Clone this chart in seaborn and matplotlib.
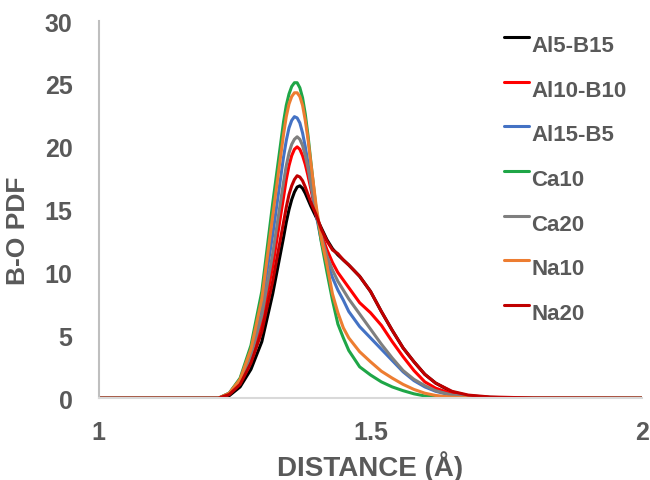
import pandas as pd
import matplotlib
matplotlib.use("Agg")
import matplotlib.pyplot as plt
from matplotlib.legend_handler import HandlerLine2D
import seaborn as sns

# B-O distance grid (Å)
distance = [1.00, 1.20, 1.22, 1.24, 1.26, 1.28, 1.30, 1.32, 1.34, 1.345, 1.35, 1.355,
            1.36, 1.365, 1.37, 1.375, 1.38, 1.385, 1.39, 1.40, 1.41, 1.42, 1.43, 1.44,
            1.45, 1.46, 1.48, 1.50, 1.52, 1.54, 1.56, 1.58, 1.60, 1.62, 1.65, 1.68,
            1.72, 1.80, 2.00]

# PDF values
al5_b15 = [0, 0, 0, 0.2, 0.9, 2.3, 4.5, 8.3, 12.8, 14.0, 15.0, 15.8,
           16.4, 16.8, 16.9, 16.7, 16.3, 15.8, 15.3, 14.4, 13.5, 12.6, 11.9, 11.4,
           11.0, 10.6, 9.7, 8.5, 6.9, 5.4, 4.0, 2.9, 1.9, 1.2, 0.5, 0.2,
           0.07, 0, 0]
al10_b10 = [0, 0, 0, 0.3, 1.2, 3.1, 6.0, 10.5, 16.0, 17.4, 18.5, 19.3,
            19.8, 20.0, 19.8, 19.3, 18.6, 17.7, 16.7, 14.6, 13.0, 11.8, 10.8, 10.0,
            9.4, 8.8, 7.6, 6.8, 5.8, 4.5, 3.3, 2.2, 1.3, 0.8, 0.35, 0.15,
            0.05, 0, 0]
al15_b5 = [0, 0, 0, 0.4, 1.5, 3.8, 7.5, 13.0, 19.2, 20.5, 21.5, 22.1,
           22.4, 22.3, 21.9, 21.1, 20.0, 18.7, 17.2, 14.6, 12.4, 10.8, 9.6, 8.6,
           7.8, 6.9, 5.7, 4.8, 3.9, 3.0, 2.1, 1.4, 0.9, 0.55, 0.22, 0.08,
           0.02, 0, 0]
ca10 = [0, 0, 0, 0.4, 1.6, 4.2, 8.5, 15.5, 22.0, 23.3, 24.2, 24.8,
        25.1, 25.1, 24.7, 23.9, 22.6, 20.9, 18.9, 15.0, 12.3, 10.0, 7.8, 5.9,
        4.8, 3.8, 2.5, 1.85, 1.3, 0.9, 0.6, 0.35, 0.18, 0.08, 0.03, 0,
        0, 0, 0]
ca20 = [0, 0, 0, 0.35, 1.3, 3.4, 6.6, 11.5, 17.2, 18.5, 19.5, 20.2,
        20.6, 20.8, 20.6, 20.1, 19.3, 18.3, 17.1, 14.7, 12.8, 11.3, 10.2, 9.3,
        8.6, 7.9, 6.7, 5.5, 4.3, 3.2, 2.2, 1.5, 1.0, 0.6, 0.25, 0.1,
        0.03, 0, 0]
na10 = [0, 0, 0, 0.4, 1.5, 3.9, 7.9, 14.5, 21.0, 22.4, 23.4, 24.0,
        24.3, 24.3, 24.0, 23.3, 22.1, 20.6, 18.8, 15.3, 12.6, 10.6, 8.3, 6.8,
        5.6, 4.8, 3.7, 2.9, 2.15, 1.6, 1.1, 0.7, 0.4, 0.22, 0.08, 0.03,
        0, 0, 0]
na20 = [0, 0, 0, 0.3, 1.1, 2.8, 5.3, 9.3, 14.0, 15.2, 16.2, 16.9,
        17.4, 17.7, 17.6, 17.3, 16.8, 16.2, 15.6, 14.6, 13.4, 12.5, 11.8, 11.5,
        11.0, 10.6, 9.7, 8.5, 6.9, 5.4, 4.0, 2.9, 1.9, 1.2, 0.55, 0.25,
        0.1, 0.02, 0]

labels = ["Al5-B15", "Al10-B10", "Al15-B5", "Ca10", "Ca20", "Na10", "Na20"]
series = [al5_b15, al10_b10, al15_b5, ca10, ca20, na10, na20]
colors = ["#000000", "#FF0000", "#4472C4", "#1FA647", "#7F7F7F", "#ED7D31", "#C00000"]

df = pd.concat(
    [pd.DataFrame({"x": distance, "pdf": vals, "glass": name})
     for name, vals in zip(labels, series)],
    ignore_index=True,
)


# legend line sits near the top of the label, like the original
class RaisedLine(HandlerLine2D):
    def create_artists(self, legend, orig_handle, xdescent, ydescent,
                       width, height, fontsize, trans):
        arts = super().create_artists(legend, orig_handle, xdescent, ydescent,
                                      width, height, fontsize, trans)
        for a in arts:
            a.set_ydata([y + 0.4 * height for y in a.get_ydata()])
        return arts


sns.set_style("white")
plt.rcParams["font.family"] = ["Liberation Sans", "DejaVu Sans"]
plt.rcParams["font.weight"] = "bold"

txt = "#595959"
fig = plt.figure(figsize=(6.5, 4.81), dpi=100)
ax = fig.add_axes([0.152, 0.170, 0.836, 0.784])

sns.lineplot(data=df, x="x", y="pdf", hue="glass", hue_order=labels,
             palette=colors, linewidth=2.2, sort=False, estimator=None, ax=ax)

ax.set_xlim(1, 2)
ax.set_ylim(0, 30)
ax.set_xticks([1, 1.5, 2])
ax.set_xticklabels(["1", "1.5", "2"])
ax.set_yticks(range(0, 31, 5))
ax.tick_params(axis="both", length=0, labelsize=18, colors=txt)
ax.tick_params(axis="y", pad=19)
ax.tick_params(axis="x", pad=16)
for lab in ax.get_xticklabels() + ax.get_yticklabels():
    lab.set_fontweight("bold")

ax.set_xlabel("DISTANCE (Å)", fontsize=20, fontweight="bold", color=txt, labelpad=4)
ax.set_ylabel("B-O PDF", fontsize=19, fontweight="bold", color=txt)
ax.yaxis.set_label_coords(-0.127, 0.448)

ax.spines["top"].set_visible(False)
ax.spines["right"].set_visible(False)
ax.spines["left"].set_color("#BFBFBF")
ax.spines["bottom"].set_color("#D9D9D9")
ax.spines["left"].set_linewidth(1.5)
ax.spines["bottom"].set_linewidth(1.5)

handles, _ = ax.get_legend_handles_labels()
leg = ax.legend(handles, labels, loc="upper left", bbox_to_anchor=(0.73, 0.986),
                frameon=False, fontsize=16, handlelength=1.1, handletextpad=0.1,
                labelspacing=1.06, borderaxespad=0,
                handler_map={h: RaisedLine() for h in handles})
for t in leg.get_texts():
    t.set_color(txt)
    t.set_fontweight("bold")

plt.savefig("out.png", dpi=100)
